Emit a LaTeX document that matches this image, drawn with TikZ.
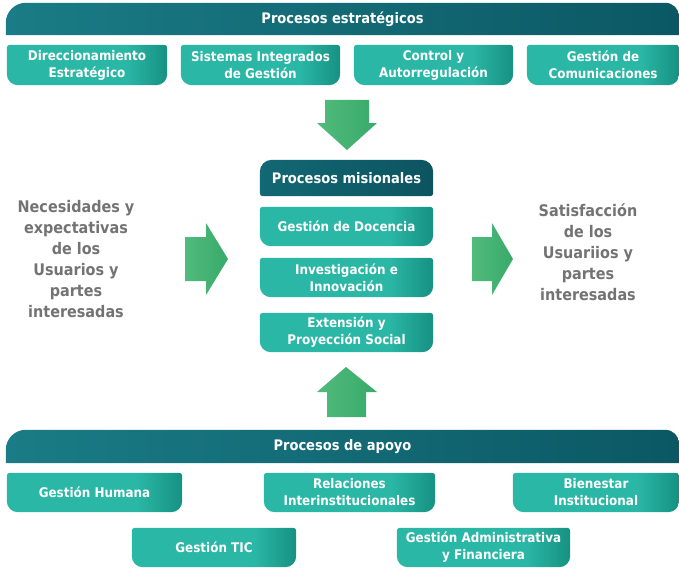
\documentclass[tikz,border=0pt]{standalone}
\usepackage{fontspec}
\setmainfont[FakeStretch=0.9]{DejaVu Sans}
\usetikzlibrary{backgrounds}
\definecolor{tealA}{RGB}{43,183,166}
\definecolor{tealB}{RGB}{22,145,130}
\definecolor{banL}{RGB}{26,124,134}
\definecolor{banR}{RGB}{11,88,100}
\definecolor{hdrL}{RGB}{18,104,116}
\definecolor{hdrR}{RGB}{12,84,96}
\definecolor{arrG}{RGB}{80,187,124}
\definecolor{arrD}{RGB}{56,170,106}
\definecolor{txtG}{RGB}{115,115,115}
\pgfdeclarehorizontalshading{boxsh}{100bp}{color(0bp)=(tealA); color(25bp)=(tealA); color(62bp)=(tealA); color(75bp)=(tealB); color(100bp)=(tealB)}
% name, path options, radii: top-left, top-right, bottom-right, bottom-left
\newcommand\rshape[6]{%
  \path[#2] ([xshift=#3]#1.north west) -- ([xshift=-#4]#1.north east)
    arc[start angle=90,end angle=0,radius=#4] -- ([yshift=#5]#1.south east)
    arc[start angle=0,end angle=-90,radius=#5] -- ([xshift=#6]#1.south west)
    arc[start angle=270,end angle=180,radius=#6] -- ([yshift=-#3]#1.north west)
    arc[start angle=180,end angle=90,radius=#3] -- cycle;}
\newcommand\tealbox[1]{\rshape{#1}{shade,shading=boxsh}{3pt}{3pt}{11pt}{11pt}}
\newcommand\bannerbox[1]{\rshape{#1}{left color=banL,right color=banR}{20pt}{14pt}{0.01pt}{0.01pt}}
\begin{document}
\begin{tikzpicture}[x=1pt,y=-1pt,
  boxnode/.style={inner sep=0pt, align=center, text=white,
    font=\bfseries\fontsize{13.3}{17}\selectfont},
  bannode/.style={inner sep=0pt, align=center, text=white,
    font=\bfseries\fontsize{14.5}{17}\selectfont},
  sidetext/.style={inner sep=0pt, align=center, text=txtG,
    font=\bfseries\fontsize{16}{21}\selectfont},
  arrowfill/.style={left color=arrG, right color=arrD}]
\useasboundingbox (0,0) rectangle (679,567);

% strategic
\node[bannode, minimum width=673pt, minimum height=32pt] (est) at (342.5,19) {Procesos estratégicos};
\node[boxnode, minimum width=160pt, minimum height=40pt] (dir) at (87,65) {Direccionamiento\\Estratégico};
\node[boxnode, minimum width=159pt, minimum height=40pt] (sig) at (260.5,65) {Sistemas Integrados\\de Gestión};
\node[boxnode, minimum width=159pt, minimum height=40pt] (con) at (433.5,65) {Control y\\Autorregulación};
\node[boxnode, minimum width=152pt, minimum height=40pt] (com) at (603,65) {Gestión de\\Comunicaciones};

% misionales
\node[boxnode, font=\bfseries\fontsize{14.5}{17}\selectfont, minimum width=173pt, minimum height=36pt] (mis) at (346.5,178) {Procesos misionales};
\node[boxnode, minimum width=173pt, minimum height=39pt] (doc) at (346.5,226.5) {Gestión de Docencia};
\node[boxnode, minimum width=173pt, minimum height=39pt] (inv) at (346.5,277.5) {Investigación e\\Innovación};
\node[boxnode, minimum width=173pt, minimum height=39pt] (ext) at (346.5,332.5) {Extensión y\\Proyección Social};

% side texts
\node[sidetext] (nec) at (76,259) {Necesidades y\\expectativas\\de los\\Usuarios y\\partes\\interesadas};
\node[sidetext] (sat) at (588,252) {Satisfacción\\de los\\Usuariios y\\partes\\interesadas};

% apoyo
\node[bannode, minimum width=673pt, minimum height=33pt] (apo) at (342.5,446.5) {Procesos de apoyo};
\node[boxnode, minimum width=175pt, minimum height=39pt] (hum) at (94.5,492.5) {Gestión Humana};
\node[boxnode, minimum width=171pt, minimum height=39pt] (rel) at (349.5,492.5) {Relaciones\\Interinstitucionales};
\node[boxnode, minimum width=166pt, minimum height=39pt] (bie) at (596,492.5) {Bienestar\\Institucional};
\node[boxnode, minimum width=164pt, minimum height=39pt] (tic) at (214,547.5) {Gestión TIC};
\node[boxnode, minimum width=173pt, minimum height=39pt] (adm) at (483.5,547.5) {Gestión Administrativa\\y Financiera};

\begin{scope}[on background layer]
  \bannerbox{est}
  \bannerbox{apo}
  \foreach \n in {dir,sig,con,com,doc,inv,ext,hum,rel,bie,tic,adm}{\tealbox{\n}}
  \rshape{mis}{left color=hdrL,right color=hdrR}{12pt}{12pt}{3pt}{3pt}
\end{scope}

% arrows
\shade[arrowfill] (325,100) -- (369,100) -- (369,123) -- (377,123) -- (347,150) -- (317,123) -- (325,123) -- cycle;
\shade[arrowfill] (327,417) -- (366,417) -- (366,392) -- (377,392) -- (346,367) -- (317,392) -- (327,392) -- cycle;
\shade[arrowfill] (185,237) -- (206,237) -- (206,223) -- (228,259) -- (206,295) -- (206,281) -- (185,281) -- cycle;
\shade[arrowfill] (472,237) -- (492,237) -- (492,223) -- (513,259) -- (492,295) -- (492,281) -- (472,281) -- cycle;
\end{tikzpicture}
\end{document}
